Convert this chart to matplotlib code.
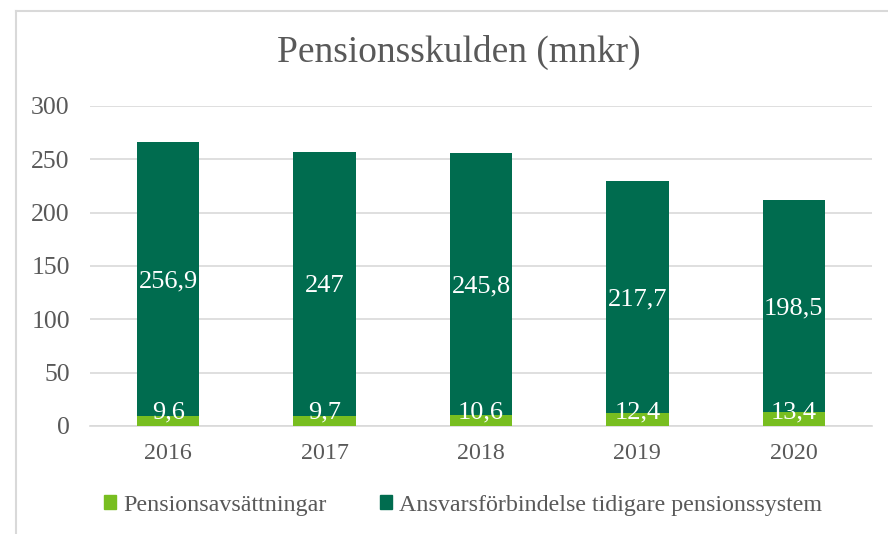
import matplotlib.pyplot as plt
from matplotlib.lines import Line2D
from matplotlib.patches import Patch

years = ['2016', '2017', '2018', '2019', '2020']
avsattningar = [9.6, 9.7, 10.6, 12.4, 13.4]
ansvar = [256.9, 247, 245.8, 217.7, 198.5]
avs_labels = ['9,6', '9,7', '10,6', '12,4', '13,4']
ansvar_labels = ['256,9', '247', '245,8', '217,7', '198,5']

light = '#78BE20'
dark = '#006C4F'
gray = '#595959'
gridc = '#D9D9D9'

plt.rcParams['font.family'] = ['Liberation Serif', 'DejaVu Serif']

fig = plt.figure(figsize=(8.88, 5.34), dpi=100)
ax = fig.add_axes([90 / 888, 1 - 426 / 534, 782 / 888, 320 / 534])

x = list(range(len(years)))
ax.bar(x, avsattningar, width=0.4, color=light, zorder=3)
ax.bar(x, ansvar, width=0.4, bottom=avsattningar, color=dark, zorder=3)

for i in x:
    # small segment label sits on the axis, like Excel clamps it
    ax.annotate(avs_labels[i], (i, 0), xytext=(0, 1.5), textcoords='offset points',
                ha='center', va='bottom', color='white', fontsize=19, zorder=4)
    ax.text(i, avsattningar[i] + ansvar[i] / 2, ansvar_labels[i], ha='center',
            va='center_baseline', color='white', fontsize=19, zorder=4)

ax.set_xlim(-0.5, 4.5)
ax.set_ylim(0, 300)
ax.set_yticks(range(0, 301, 50))
ax.set_xticks(x)
ax.set_xticklabels(years)
ax.grid(axis='y', color=gridc, linewidth=1.2, zorder=0)
for s in ['top', 'right', 'left']:
    ax.spines[s].set_visible(False)
ax.spines['bottom'].set_color(gridc)
ax.spines['bottom'].set_linewidth(1.2)
ax.tick_params(axis='both', length=0, colors=gray)
ax.tick_params(axis='y', pad=14.5, labelsize=18.5)
ax.tick_params(axis='x', pad=12, labelsize=17.3)

fig.text(459 / 888, 1 - 52 / 534, 'Pensionsskulden (mnkr)', ha='center', va='center',
         fontsize=27, color=gray)

handles = [Patch(color=light), Patch(color=dark)]
fig.legend(handles, ['Pensionsavsättningar', 'Ansvarsförbindelse tidigare pensionssystem'],
           loc='center', bbox_to_anchor=(463 / 888, 1 - 505 / 534), ncol=2, frameon=False,
           fontsize=17.3, labelcolor=gray, handlelength=0.5, handleheight=0.5,
           handletextpad=0.3, columnspacing=2.2)

# outer chart border
fig.add_artist(Line2D([16 / 888, 16 / 888], [0, 1 - 10.5 / 534], color=gridc, linewidth=1.5))
fig.add_artist(Line2D([16 / 888, 1], [1 - 10.5 / 534, 1 - 10.5 / 534], color=gridc, linewidth=1.5))

fig.savefig('out.png', dpi=100)
